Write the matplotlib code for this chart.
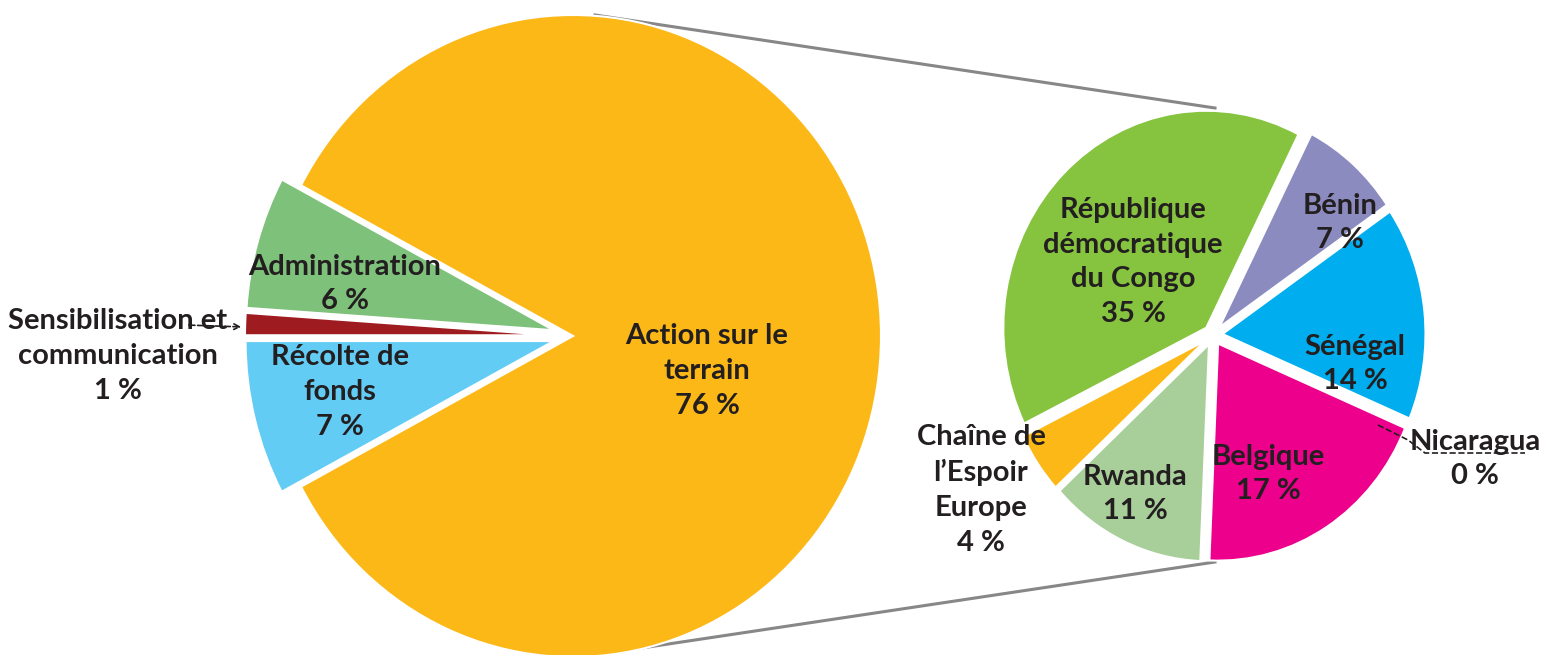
import matplotlib
matplotlib.use("Agg")
import matplotlib.pyplot as plt
from matplotlib.transforms import Affine2D

W, H = 1549, 655
DARK = "#231f20"

# main pie (left)
main_labels = ["Action sur le\nterrain", "Administration", "Sensibilisation et\ncommunication", "Récolte de\nfonds"]
main_values = [76, 6, 1, 7]
main_colors = ["#fbb817", "#7ec17a", "#9e1b20", "#62ccf4"]

# detail pie (right) - breakdown of "Action sur le terrain"
detail_labels = ["Bénin", "Sénégal", "Nicaragua", "Belgique", "Rwanda",
                 "Chaîne de\nl’Espoir\nEurope", "République\ndémocratique\ndu Congo"]
detail_values = [7, 14, 0, 17, 11, 4, 35]
detail_colors = ["#8b8bc0", "#00adee", "#5a5a5a", "#ec008c", "#a8ce9a", "#fbb817", "#86c440"]

plt.rcParams["font.family"] = ["Lato", "DejaVu Sans"]

fig = plt.figure(figsize=(W / 100, H / 100), dpi=100)
ax = fig.add_axes([0, 0, 1, 1])


def draw_pie(values, colors, cx, cy, rx, ry, explode, start, counterclock):
    wedges, _ = ax.pie(values, colors=colors, explode=explode, startangle=start,
                       counterclock=counterclock, radius=1,
                       wedgeprops=dict(edgecolor="white", linewidth=1.5))
    # pixel space with y going down: flip y in the scale
    tr = Affine2D().scale(rx, -ry).translate(cx, cy) + ax.transData
    for w in wedges:
        w.set_transform(tr)
    return wedges


draw_pie(main_values, main_colors, 573, 336, 308, 321,
         [0, 0.065, 0.065, 0.065], -152, True)
draw_pie(detail_values, detail_colors, 1213, 335, 203, 217,
         [0.047] * len(detail_values), 63, False)

# connector lines
ax.plot([595, 1215], [15, 108], color="#878787", lw=2.2, zorder=0)
ax.plot([595, 1215], [655, 562], color="#878787", lw=2.2, zorder=0)

ax.set_xlim(0, W)
ax.set_ylim(H, 0)
ax.set_aspect("auto")
ax.axis("off")

txt = dict(ha="center", va="center", fontsize=21, fontweight="bold",
           linespacing=1.42, color=DARK)

main_pos = [(707, 371), (345, 284), (118, 356), (340, 392)]
for lab, v, (x, y) in zip(main_labels, main_values, main_pos):
    ax.text(x, y, f"{lab}\n{v} %", **txt)

detail_pos = [(1340, 223), (1355, 364), (1475, 459), (1268, 474),
              (1135, 494), (981, 490), (1133, 262)]
for lab, v, (x, y) in zip(detail_labels, detail_values, detail_pos):
    ax.text(x, y, f"{lab}\n{v} %", **txt)

# leader lines for the small slices
ax.annotate("", xy=(244, 327), xytext=(186, 325),
            arrowprops=dict(arrowstyle="->", ls="--", lw=1.2, color=DARK))
ax.plot([1378, 1408, 1425, 1525], [425, 440, 453, 453], ls="--", lw=1.2, color=DARK)

fig.savefig("out.png", dpi=100)
